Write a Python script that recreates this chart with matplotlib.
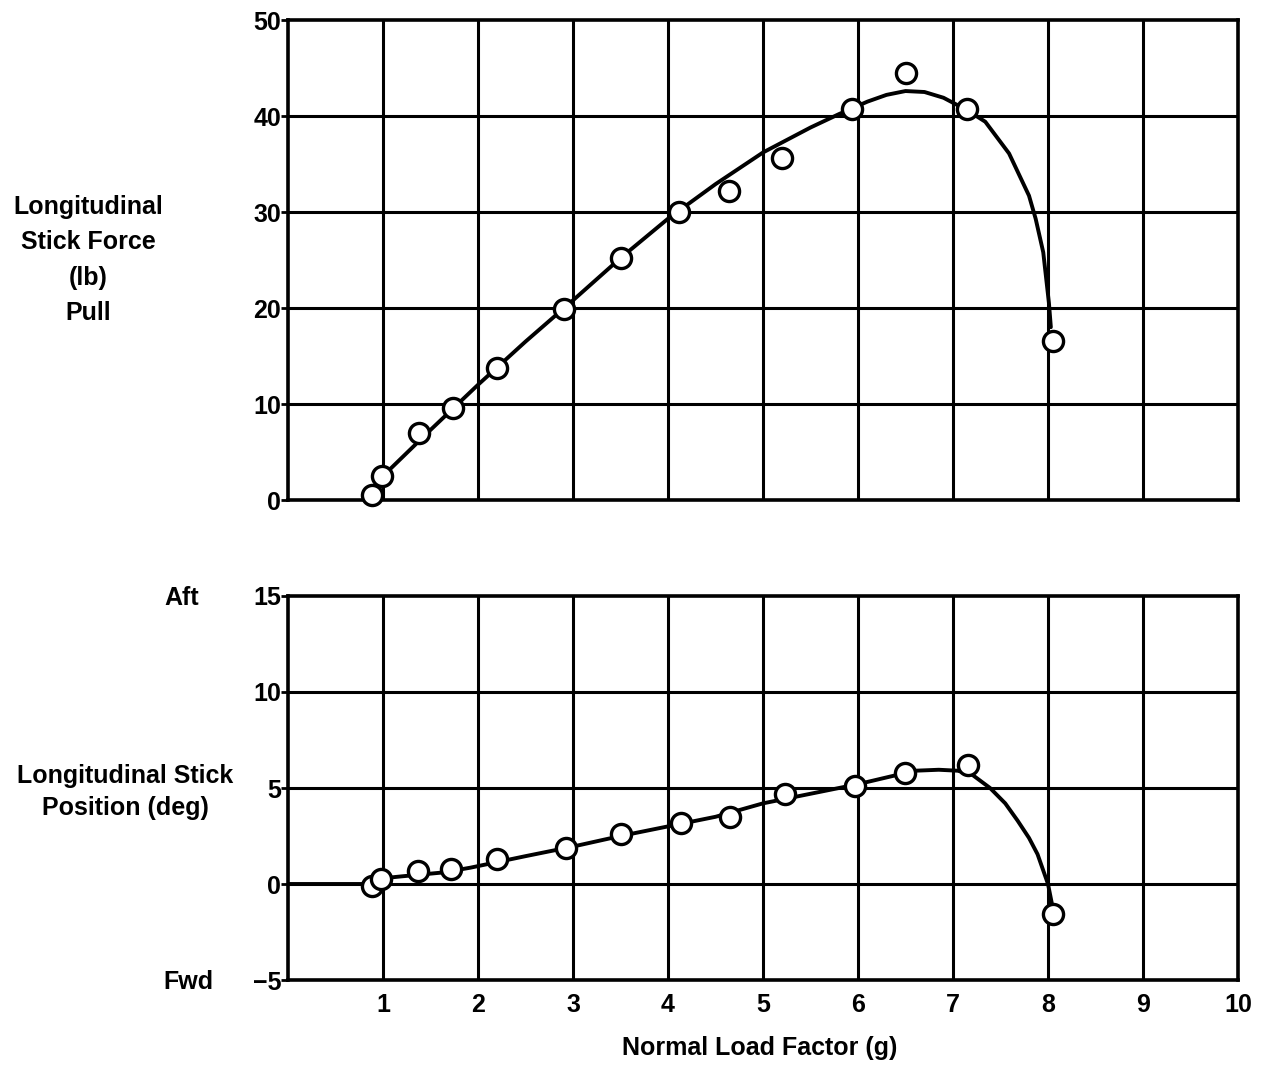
import matplotlib
matplotlib.use("Agg")
import matplotlib.pyplot as plt

# ---- data ----
force_x = [0.88, 0.99, 1.38, 1.74, 2.20, 2.90, 3.50, 4.12, 4.64, 5.20, 5.94, 6.50, 7.15, 8.05]
force_y = [0.5, 2.5, 7.0, 9.6, 13.8, 19.9, 25.2, 30.0, 32.2, 35.6, 40.7, 44.5, 40.7, 16.6]
force_curve_x = [0.90, 1.00, 1.50, 2.00, 2.50, 3.00, 3.50, 4.00, 4.50, 5.00, 5.50, 5.80,
                 6.10, 6.30, 6.50, 6.70, 6.90, 7.15, 7.34, 7.59, 7.80, 7.87, 7.95, 8.01, 8.03]
force_curve_y = [1.0, 2.5, 7.3, 12.0, 16.5, 20.8, 25.2, 29.3, 32.9, 36.2, 38.8, 40.2,
                 41.5, 42.2, 42.6, 42.5, 41.9, 40.6, 39.4, 36.1, 31.7, 29.3, 25.8, 20.5, 18.0]

pos_x = [0.88, 0.98, 1.37, 1.72, 2.20, 2.93, 3.50, 4.14, 4.65, 5.23, 5.97, 6.49, 7.16, 8.05]
pos_y = [-0.1, 0.26, 0.7, 0.8, 1.3, 1.9, 2.6, 3.2, 3.5, 4.7, 5.1, 5.8, 6.2, -1.55]
pos_curve_x = [0.00, 0.85, 1.00, 1.20, 1.63, 1.92, 2.50, 3.00, 3.50, 4.00, 4.50, 5.00, 5.50,
               6.00, 6.30, 6.60, 6.85, 7.05, 7.20, 7.39, 7.55, 7.68, 7.80, 7.89, 8.00, 8.04]
pos_curve_y = [0.0, 0.0, 0.3, 0.4, 0.6, 0.85, 1.45, 1.95, 2.5, 3.0, 3.5, 4.2, 4.7,
               5.2, 5.55, 5.9, 5.95, 5.9, 5.7, 5.0, 4.2, 3.3, 2.4, 1.55, 0.0, -1.0]

x_ticks = [1, 2, 3, 4, 5, 6, 7, 8, 9, 10]
force_ticks = [0, 10, 20, 30, 40, 50]
pos_ticks = [-5, 0, 5, 10, 15]

plt.rcParams['font.family'] = ['Liberation Sans', 'DejaVu Sans']
plt.rcParams['font.weight'] = 'bold'

W, H = 1265, 1066
fig = plt.figure(figsize=(W / 100, H / 100), dpi=100)
fig.patch.set_facecolor('white')

L = 288 / W
R = 1238 / W
ax1 = fig.add_axes([L, 1 - 500 / H, R - L, (500 - 20) / H])
ax2 = fig.add_axes([L, 1 - 980 / H, R - L, (980 - 596) / H])

grid_lw = 2.2
mk = dict(linestyle='none', marker='o', markersize=14.5, markerfacecolor='white',
          markeredgecolor='black', markeredgewidth=2.4, zorder=4, clip_on=False)
for ax in (ax1, ax2):
    ax.set_xlim(0, 10)
    for s in ax.spines.values():
        s.set_linewidth(2.6)
        s.set_color('black')
    for xv in x_ticks[:-1]:
        ax.axvline(xv, color='black', lw=grid_lw, zorder=1)
    ax.tick_params(axis='y', length=5, width=2, labelsize=18, pad=0)
    ax.tick_params(axis='x', length=0, labelsize=18, pad=9)

ax1.set_ylim(0, 50)
ax1.set_yticks(force_ticks)
ax1.set_xticks([])
for yv in force_ticks[1:-1]:
    ax1.axhline(yv, color='black', lw=grid_lw, zorder=1)
ax1.plot(force_curve_x, force_curve_y, color='black', lw=2.8, zorder=3,
         solid_joinstyle='round', solid_capstyle='round')
ax1.plot(force_x, force_y, **mk)

ax2.set_ylim(-5, 15)
ax2.set_yticks(pos_ticks)
ax2.set_yticklabels(['\u22125', '0', '5', '10', '15'])
ax2.set_xticks(x_ticks)
ax2.set_xticklabels([str(v) for v in x_ticks])
for yv in pos_ticks[1:-1]:
    ax2.axhline(yv, color='black', lw=grid_lw, zorder=1)
ax2.plot(pos_curve_x, pos_curve_y, color='black', lw=2.8, zorder=3,
         solid_joinstyle='round', solid_capstyle='round')
ax2.plot(pos_x, pos_y, **mk)

# labels
fig.text(88 / W, 1 - 260 / H, "Longitudinal\nStick Force\n(lb)\nPull", ha='center', va='center',
         fontsize=18, linespacing=1.6)
fig.text(125 / W, 1 - 792 / H, "Longitudinal Stick\nPosition (deg)", ha='center', va='center',
         fontsize=18, linespacing=1.45)
fig.text(182 / W, 1 - 598 / H, "Aft", ha='center', va='center', fontsize=18)
fig.text(188 / W, 1 - 982 / H, "Fwd", ha='center', va='center', fontsize=18)
fig.text(760 / W, 1 - 1048 / H, "Normal Load Factor (g)", ha='center', va='center', fontsize=18)

fig.savefig("out.png", dpi=100, facecolor='white')
